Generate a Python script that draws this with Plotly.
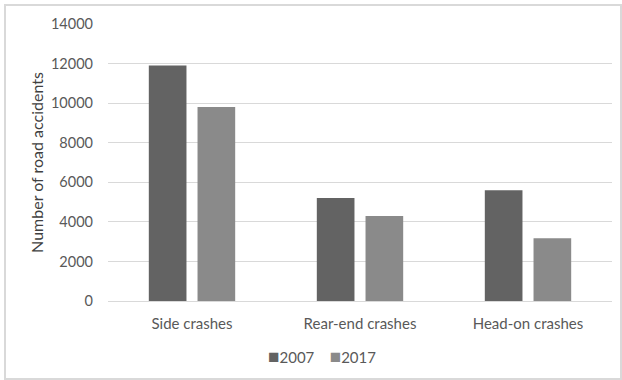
import plotly.graph_objects as go

categories = ["Side crashes", "Rear-end crashes", "Head-on crashes"]
values_2007 = [11900, 5200, 5600]
values_2017 = [9800, 4300, 3170]
y_ticks = [0, 2000, 4000, 6000, 8000, 10000, 12000, 14000]
series_names = ["2007", "2017"]
series_colors = ["#636363", "#8a8a8a"]

FONT = "Lato"
TEXT = "#595959"

fig = go.Figure()
for name, vals, col in zip(series_names, [values_2007, values_2017], series_colors):
    fig.add_trace(go.Bar(name=name, x=categories, y=vals,
                         marker=dict(color=col, line=dict(width=0)),
                         showlegend=False))

W, H = 622, 380
L, R, T, B = 108, 10, 24, 79
pw, ph = W - L - R, H - T - B

def px_x(p):
    return (p - L) / pw

def px_y(p):
    return (H - B - p) / ph

# compact legend: small coloured squares followed by the series name
legend_text = "&nbsp;&nbsp;&nbsp;&nbsp;".join(
    f"<span style='color:{c}; font-size:19px'>■</span>{n}"
    for n, c in zip(series_names, series_colors))

fig.update_layout(
    width=W, height=H,
    margin=dict(l=L, r=R, t=T, b=B),
    paper_bgcolor="white", plot_bgcolor="white",
    barmode="group", bargap=0.42, bargroupgap=0.227,
    font=dict(family=FONT, size=14, color=TEXT),
    showlegend=False,
    xaxis=dict(showgrid=False, showline=False, ticks="", ticklabelstandoff=12,
               tickfont=dict(size=15, color=TEXT)),
    yaxis=dict(range=[0, 14000], tickvals=y_ticks, tickformat="d", showgrid=True,
               gridcolor="#d9d9d9", gridwidth=1, zeroline=True, zerolinecolor="#d9d9d9",
               zerolinewidth=1, showline=False, ticks="", ticklabelstandoff=14,
               tickfont=dict(size=14.5, color=TEXT),
               title=dict(text="Number of road accidents", standoff=3,
                          font=dict(size=16, color="#404040"))),
    annotations=[dict(text=legend_text, xref="paper", yref="paper",
                      x=px_x(322), y=px_y(355), xanchor="center", yanchor="middle",
                      showarrow=False, font=dict(family=FONT, size=15, color=TEXT))],
    shapes=[dict(type="rect", xref="paper", yref="paper",
                 x0=px_x(5), x1=px_x(621), y0=px_y(379), y1=px_y(5),
                 line=dict(color="#d9d9d9", width=2), layer="below")],
)

fig.write_html("out.html")
